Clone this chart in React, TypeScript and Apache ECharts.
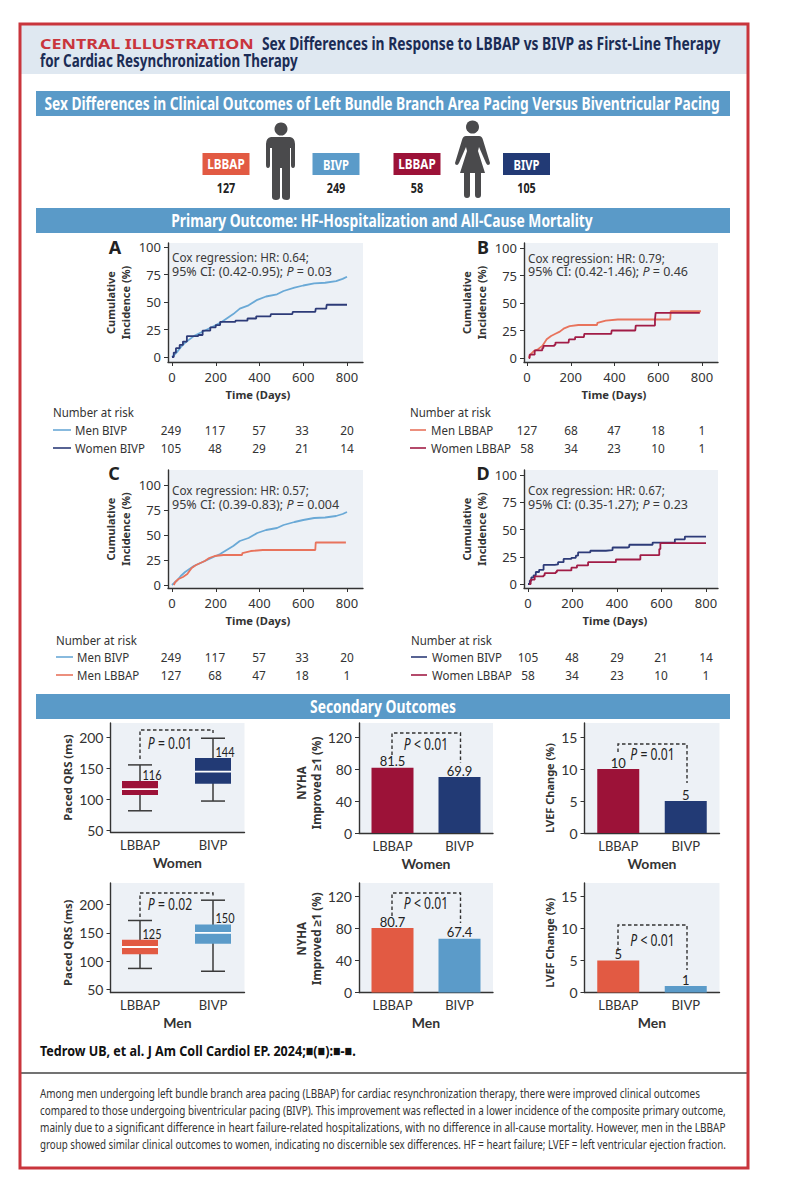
import React, { useEffect, useRef } from "react";
import * as echarts from "echarts";

const HEAD = '"Noto Sans", sans-serif';
const SMALL = 'Lato, sans-serif';
const SANS = '"Noto Sans", sans-serif';
const TXT = "#333";
const NAVY = "#1b2c55";
const C_MB = "#6aa9d6";
const C_WB = "#2d3b78";
const C_ML = "#e8735c";
const C_WL = "#a11c46";
const F_MB = "#5b9bc9";
const F_WB = "#223a75";
const F_ML = "#e25a43";
const F_WL = "#9c1238";
const BG = "#edf1f6";
const BAND = "#5a9ac8";

// Cumulative incidence: [day, percent]
const menBivp = [[0,0],[10,2],[25,5],[40,9],[60,13],[80,16],[100,19],[130,22],[160,25],[190,28],[220,31],[250,35],[280,39],[310,44],[350,47],[390,52],[430,55],[480,57],[510,60],[560,63],[600,65],[650,67],[700,67.5],[750,69],[780,71],[800,73]];
const womenBivpA = [[0,0],[8,4],[18,8],[35,11],[50,14],[68,19],[120,20],[140,24],[175,27],[200,29],[220,32],[270,32],[290,33],[340,33],[345,35],[385,37],[450,37],[452,39],[550,39],[552,41],[655,41],[657,44],[705,44],[707,47.5],[800,47.5]];
const menLbbap = [[8,0],[15,3],[30,6],[50,8],[70,11],[90,17],[110,20],[130,22],[150,24],[170,27],[195,29],[235,30],[320,30],[322,32],[360,34],[415,35],[655,35],[657,42.5],[795,42.5]];
const womenLbbapB = [[8,0],[12,3],[35,7],[70,9],[75,11],[125,12],[130,14],[190,14],[192,17],[220,19],[260,19],[262,22],[385,22],[387,25],[495,25],[497,29.5],[575,29.5],[585,35],[588,41],[790,41]];
const womenBivpD = [[0,0],[8,3],[15,6],[25,8],[35,11],[50,13],[70,17.5],[120,18],[135,20],[160,23],[195,24],[215,26],[225,29],[275,29],[280,30.5],[350,31],[380,33.5],[450,34],[455,36],[555,36],[560,38],[655,38],[660,41],[700,41],[705,43.5],[800,43.5]];
const womenLbbapD = [[5,0],[12,4],[30,7],[70,8],[75,10],[125,11],[130,12.5],[190,12.5],[195,15],[220,17],[265,17],[270,20],[390,20],[395,22.5],[500,22.5],[505,26.5],[580,26.5],[590,32],[595,37.5],[800,37.5]];

const kmXTicks = [0, 200, 400, 600, 800];
const kmYTicks = [0, 25, 50, 75, 100];

// Numbers at risk
const riskMenBivp = [249, 117, 57, 33, 20];
const riskWomenBivp = [105, 48, 29, 21, 14];
const riskMenLbbap = [127, 68, 47, 18, 1];
const riskWomenLbbap = [58, 34, 23, 10, 1];

// Secondary outcomes
const groups = ["LBBAP", "BIVP"];
// [position, low, q1, median, q3, high]
const qrsWomen = [[0,81,106.5,116,129,155],[1,96.7,124.7,144,166,198]];
const qrsMen = [[0,87,112,125,138,172],[1,82,130.6,150,165,208]];
const nyhaWomen = [81.5, 69.9];
const nyhaMen = [80.7, 67.4];
const lvefWomen = [10, 5];
const lvefMen = [5, 1];

const summary = [
  "Among men undergoing left bundle branch area pacing (LBBAP) for cardiac resynchronization therapy, there were improved clinical outcomes",
  "compared to those undergoing biventricular pacing (BIVP). This improvement was reflected in a lower incidence of the composite primary outcome,",
  "mainly due to a significant difference in heart failure-related hospitalizations, with no difference in all-cause mortality. However, men in the LBBAP",
  "group showed similar clinical outcomes to women, indicating no discernible sex differences. HF = heart failure; LVEF = left ventricular ejection fraction.",
];

const manPath = "M271,137 L290,137 Q295,138 295,144 L295,165 Q295,168 293,168 Q291,168 291,165 L291,148 L290,148 L290,197 Q290,200 287,200 Q282,200 282,197 L282,168 L280,168 L280,197 Q280,200 276,200 Q272,200 272,197 L272,148 L270,148 L270,165 Q270,168 268,168 Q266,168 266,165 L266,144 Q266,138 271,137 Z";
const womanPath = "M466,136 L479,136 Q482,136 483,140 L490,163 Q490,165 488,165 Q487,165 486,163 L479,147 L478,151 L485,173 L481,173 L481,195 Q481,198 478,198 Q475,198 475,195 L475,173 L470,173 L470,195 Q470,198 467,198 Q464,198 464,195 L464,173 L460,173 L467,151 L466,147 L459,163 Q458,165 457,165 Q455,165 455,163 L462,140 Q463,136 466,136 Z";

const measureCtx = document.createElement("canvas").getContext("2d")!;
function measure(text: string, size: number, weight: string, family: string) {
  measureCtx.font = `${weight} ${size}px ${family}`;
  return measureCtx.measureText(text.replace(/\{i\|(.*?)\}/g, "$1")).width;
}

function t(x: number, y: number, text: string, o: any = {}) {
  const align = o.align || "left";
  const size = o.size || 12;
  const weight = o.weight || "normal";
  const family = o.family || SANS;
  const scaleX = o.fit ? o.fit / measure(text, size, weight, family) : o.scale || 1;
  return {
    type: "text", x, y, z: 50, scaleX,
    style: {
      text, fontSize: size, fontWeight: weight, fill: o.color || TXT,
      fontFamily: family, align, textAlign: align,
      verticalAlign: "middle", textVerticalAlign: "middle", rich: o.rich,
    },
  };
}
function band(y: number, h: number, text: string, fit: number, cx = 383) {
  return [
    { type: "rect", z: 5, shape: { x: 36, y, width: 694, height: h }, style: { fill: BAND } },
    t(cx, y + h / 2, text, { size: 18, weight: "bold", color: "#fff", family: HEAD, align: "center", fit }),
  ];
}
function tag(x: number, label: string, color: string, n: number, fit: number) {
  return [
    { type: "rect", z: 5, shape: { x, y: 153, width: 47, height: 22 }, style: { fill: color } },
    t(x + 23.5, 164, label, { size: 14, weight: "bold", color: "#fff", family: HEAD, align: "center", fit }),
    t(x + 23.5, 187, String(n), { size: 15, weight: "bold", color: "#222", family: HEAD, align: "center", scale: 0.72 }),
  ];
}
function bracket(points: number[][], label: string, lx: number, ly: number) {
  const parts = label.split("P");
  return [
    { type: "polyline", z: 40, shape: { points }, style: { stroke: "#333", lineWidth: 1.4, lineDash: [3.5, 2.5], fill: "none" } },
    t(lx, ly, "{i|P}" + parts[1], { size: 16, family: HEAD, align: "center", color: "#222", scale: 0.76,
      rich: { i: { fontStyle: "italic", fontSize: 16, fontFamily: HEAD, fill: "#222" } } }),
  ];
}
function cox(x: number, y1: number, y2: number, a: string, b: string) {
  const rich = { i: { fontStyle: "italic", fontSize: 12.5, fontFamily: SANS, fill: "#3a3a3a" } };
  return [
    t(x, y1, a, { size: 12.5, color: "#3a3a3a", fit: 137 }),
    t(x, y2, b, { size: 12.5, color: "#3a3a3a", rich }),
  ];
}
function riskTable(x: number, yHead: number, y1: number, y2: number, nameX: number, lineEnd: number,
  rows: { name: string; color: string; vals: number[] }[], cols: number[]) {
  const out: any[] = [t(x, yHead, "Number at risk", { size: 12.5, scale: 0.92 })];
  rows.forEach((r, i) => {
    const y = i === 0 ? y1 : y2;
    out.push({ type: "line", z: 40, shape: { x1: x, y1: y, x2: lineEnd, y2: y }, style: { stroke: r.color, lineWidth: 1.6 } });
    out.push(t(nameX, y, r.name, { size: 12.5, scale: 0.92 }));
    r.vals.forEach((v, k) => out.push(t(cols[k], y, String(v), { size: 12.5, align: "center", scale: 0.95 })));
  });
  return out;
}

const grids: any[] = [];
const xAxes: any[] = [];
const yAxes: any[] = [];
const series: any[] = [];

const axisLine = { show: true, onZero: false, lineStyle: { color: "#333", width: 1.4 } };

function addKm(l: number, r: number, top: number, bottom: number, x0: number, x800: number, y0: number, y100: number,
  lines: { name: string; data: number[][]; color: string; stepped: boolean }[], namePad: number) {
  const i = grids.length;
  grids.push({ left: l, top, width: r - l, height: bottom - top, show: true, backgroundColor: BG, borderWidth: 0 });
  const sx = (x800 - x0) / 800;
  const sy = (y0 - y100) / 100;
  xAxes.push({
    gridIndex: i, type: "value", min: (l - x0) / sx, max: (r - x0) / sx,
    axisLine, splitLine: { show: false },
    axisTick: { show: true, length: 4, customValues: kmXTicks, lineStyle: { color: "#333" } },
    axisLabel: { customValues: kmXTicks, fontSize: 13, color: TXT, fontFamily: SANS, margin: 8 },
    name: "Time (Days)", nameLocation: "middle", nameGap: 27,
    nameTextStyle: { fontSize: 11.2, fontWeight: "bold", color: TXT, fontFamily: SANS, padding: [0, namePad, 0, 0] },
  });
  yAxes.push({
    gridIndex: i, type: "value", min: (y0 - bottom) / sy, max: (y0 - top) / sy,
    axisLine, splitLine: { show: false },
    axisTick: { show: true, length: 4, customValues: kmYTicks, lineStyle: { color: "#333" } },
    axisLabel: { customValues: kmYTicks, fontSize: 13, color: TXT, fontFamily: SANS, margin: 7 },
    name: "Cumulative\nIncidence (%)", nameLocation: "middle", nameGap: 35,
    nameTextStyle: { fontSize: 11, fontWeight: "bold", color: TXT, fontFamily: SANS, lineHeight: 15 },
  });
  lines.forEach((s) => series.push({
    type: "line", name: s.name, xAxisIndex: i, yAxisIndex: i, data: s.data, step: s.stepped ? "end" : false, showSymbol: false,
    lineStyle: { color: s.color, width: 1.8 }, itemStyle: { color: s.color }, silent: true,
  }));
}

function smallAxes(i: number, yTicks: number[], yMin: number, yMax: number, yName: string, nameSize: number, gap: number, pad: number, xName: string) {
  yAxes.push({
    gridIndex: i, type: "value", min: yMin, max: yMax, axisLine, splitLine: { show: false },
    axisTick: { show: true, length: 4, customValues: yTicks, lineStyle: { color: "#333" } },
    axisLabel: { customValues: yTicks, fontSize: 14, color: TXT, fontFamily: SMALL, margin: 7 },
    name: yName, nameLocation: "middle", nameGap: gap,
    nameTextStyle: { fontSize: nameSize, fontWeight: "bold", color: TXT, fontFamily: SANS, lineHeight: 15, padding: [0, pad, 0, 0] },
  });
  return {
    gridIndex: i, axisLine, splitLine: { show: false }, name: xName, nameLocation: "middle", nameGap: 23,
    nameTextStyle: { fontSize: 14, fontWeight: "bold", color: TXT, fontFamily: SMALL },
  };
}

function addBars(l: number, r: number, top: number, bottom: number, yZero: number, yTop: number, topVal: number,
  vals: number[], colors: string[], yTicks: number[], yName: string, nameSize: number, gap: number, pad: number, xName: string) {
  const i = grids.length;
  grids.push({ left: l, top, width: r - l, height: bottom - top, show: true, backgroundColor: BG, borderWidth: 0 });
  const s = (yZero - yTop) / topVal;
  xAxes.push({
    ...smallAxes(i, yTicks, 0, (yZero - top) / s, yName, nameSize, gap, pad, xName),
    type: "category", data: groups,
    axisTick: { show: false },
    axisLabel: { fontSize: 13, color: TXT, fontFamily: SMALL, margin: 6 },
  });
  series.push({
    type: "bar", xAxisIndex: i, yAxisIndex: i, barWidth: 42, silent: true,
    data: vals.map((v, k) => ({ value: v, itemStyle: { color: colors[k] } })),
    label: { show: true, position: "top", distance: 0, fontSize: 13, color: "#222", fontFamily: SMALL },
  });
}

function addBox(top: number, bottom: number, y50: number, y200: number, data: number[][], colors: string[], xName: string, pad: number) {
  const i = grids.length;
  const l = 110.5, r = 244.5, c0 = 140, c1 = 213;
  grids.push({ left: l, top, width: r - l, height: bottom - top, show: true, backgroundColor: BG, borderWidth: 0 });
  const sx = c1 - c0;
  const sy = (y50 - y200) / 150;
  xAxes.push({
    ...smallAxes(i, [50, 100, 150, 200], 50 - (bottom - y50) / sy, 50 + (y50 - top) / sy, "Paced QRS (ms)", 11.3, 27, pad, xName),
    type: "value", min: (l - c0) / sx, max: (r - c0) / sx,
    axisTick: { show: false },
    axisLabel: { customValues: [0, 1], fontSize: 13, color: TXT, fontFamily: SMALL, margin: 6, formatter: (v: number) => groups[v] },
  });
  series.push({
    type: "custom", xAxisIndex: i, yAxisIndex: i, silent: true, data, encode: { x: 0, y: [1, 2, 3, 4, 5] }, clip: false,
    renderItem: (_: any, api: any) => {
      const pos = api.value(0);
      const pt = (d: number) => api.coord([pos, api.value(d)]);
      const [cx] = pt(1);
      const low = pt(1)[1], q1 = pt(2)[1], med = pt(3)[1], q3 = pt(4)[1], high = pt(5)[1];
      const dark = { stroke: "#3a3a3a", lineWidth: 1.5 };
      return {
        type: "group",
        children: [
          { type: "line", shape: { x1: cx, y1: low, x2: cx, y2: high }, style: dark },
          { type: "line", shape: { x1: cx - 12, y1: low, x2: cx + 12, y2: low }, style: dark },
          { type: "line", shape: { x1: cx - 12, y1: high, x2: cx + 12, y2: high }, style: dark },
          { type: "rect", shape: { x: cx - 18, y: q3, width: 36, height: q1 - q3 }, style: { fill: colors[pos] } },
          { type: "line", shape: { x1: cx - 18, y1: med, x2: cx + 18, y2: med }, style: { stroke: "#fff", lineWidth: 1.8 } },
          { type: "text", x: cx + 12, y: q3 - 6, scaleX: 0.78, style: { text: String(api.value(3)), fontSize: 14, fill: "#222", fontFamily: SMALL, align: "center", verticalAlign: "middle" } },
        ],
      };
    },
  });
}

// Kaplan-Meier panels
addKm(168, 363, 243, 362, 172, 347, 357, 247, [
  { name: "Men BIVP", data: menBivp, color: C_MB, stepped: false },
  { name: "Women BIVP", data: womenBivpA, color: C_WB, stepped: true },
], 15);
addKm(524, 718, 243, 362, 527, 702, 358, 248, [
  { name: "Men LBBAP", data: menLbbap, color: C_ML, stepped: false },
  { name: "Women LBBAP", data: womenLbbapB, color: C_WL, stepped: true },
], 14);
addKm(168, 363, 470, 588, 172, 347, 585, 485, [
  { name: "Men BIVP", data: menBivp, color: C_MB, stepped: false },
  { name: "Men LBBAP", data: menLbbap, color: C_ML, stepped: false },
], 15);
addKm(524, 718, 470, 588, 528, 706, 584, 475, [
  { name: "Women BIVP", data: womenBivpD, color: C_WB, stepped: true },
  { name: "Women LBBAP", data: womenLbbapD, color: C_WL, stepped: true },
], 12);

// Secondary outcomes
const wf = [F_WL, F_WB];
const mf = [F_ML, F_MB];
addBox(723, 832, 830, 737, qrsWomen, wf, "Women", 0);
addBars(359, 493, 723, 833, 832.7, 737, 120, nyhaWomen, wf, [0, 40, 80, 120], "NYHA\nImproved \u22651 (%)", 11.5, 24, 10, "Women");
addBars(584.5, 719.5, 723, 833, 832.7, 737, 15, lvefWomen, wf, [0, 5, 10, 15], "LVEF Change (%)", 11, 14, 20, "Women");
addBox(883, 992.5, 989.3, 904.7, qrsMen, mf, "Men", 10);
addBars(359, 493, 883, 992.5, 992.3, 896.7, 120, nyhaMen, mf, [0, 40, 80, 120], "NYHA\nImproved \u22651 (%)", 11.5, 28, 2, "Men");
addBars(584.5, 719.5, 883, 992.5, 992.3, 896.7, 15, lvefMen, mf, [0, 5, 10, 15], "LVEF Change (%)", 11, 14, 10, "Men");

echarts.graphic.registerShape("man", echarts.graphic.extendPath(manPath, {}));
echarts.graphic.registerShape("woman", echarts.graphic.extendPath(womanPath, {}));

const cols1 = [171, 215, 259, 302, 347];
const graphicEls: any[] = [
  { type: "rect", z: 1, shape: { x: 20, y: 24, width: 728, height: 50 }, style: { fill: "#dfe8f1" } },
  { type: "rect", z: 60, shape: { x: 20, y: 24, width: 728, height: 1144 }, style: { fill: "none", stroke: "#c9353c", lineWidth: 3 } },
  t(40, 43, "CENTRAL ILLUSTRATION", { size: 15, weight: "bold", color: "#c9353c", fit: 214 }),
  t(262, 43, "Sex Differences in Response to LBBAP vs BIVP as First-Line Therapy", { size: 17, weight: "bold", color: NAVY, family: HEAD, fit: 459 }),
  t(40, 60, "for Cardiac Resynchronization Therapy", { size: 17, weight: "bold", color: NAVY, family: HEAD, fit: 258 }),
  ...band(91, 25, "Sex Differences in Clinical Outcomes of Left Bundle Branch Area Pacing Versus Biventricular Pacing", 676, 382),
  ...band(208, 25, "Primary Outcome: HF-Hospitalization and All-Cause Mortality", 422, 382),
  ...band(694, 25, "Secondary Outcomes", 146, 383),
  ...tag(202.5, "LBBAP", F_ML, 127, 37.5),
  ...tag(312.5, "BIVP", F_MB, 249, 26),
  ...tag(393.5, "LBBAP", F_WL, 58, 37.5),
  ...tag(503, "BIVP", F_WB, 105, 26),
  { type: "circle", z: 5, shape: { cx: 281, cy: 129, r: 6.5 }, style: { fill: "#4a4a4c" } },
  { type: "man", z: 5, x: 0, y: 0, style: { fill: "#4a4a4c" } },
  { type: "circle", z: 5, shape: { cx: 472.5, cy: 127, r: 6.5 }, style: { fill: "#4a4a4c" } },
  { type: "woman", z: 5, x: 0, y: 0, style: { fill: "#4a4a4c" } },

  t(115, 247, "A", { size: 18, weight: "bold", align: "center", color: "#222" }),
  t(483, 247, "B", { size: 18, weight: "bold", align: "center", color: "#222" }),
  t(114, 473, "C", { size: 18, weight: "bold", align: "center", color: "#222" }),
  t(483, 473, "D", { size: 18, weight: "bold", align: "center", color: "#222" }),

  ...cox(172, 257, 271, "Cox regression: HR: 0.64;", "95% CI: (0.42-0.95); {i|P} = 0.03"),
  ...cox(528, 258, 271, "Cox regression: HR: 0.79;", "95% CI: (0.42-1.46); {i|P} = 0.46"),
  ...cox(172, 490, 504, "Cox regression: HR: 0.57;", "95% CI: (0.39-0.83); {i|P} = 0.004"),
  ...cox(528, 490, 504, "Cox regression: HR: 0.67;", "95% CI: (0.35-1.27); {i|P} = 0.23"),

  ...riskTable(53, 412, 430, 448, 75, 71, [
    { name: "Men BIVP", color: C_MB, vals: riskMenBivp },
    { name: "Women BIVP", color: C_WB, vals: riskWomenBivp },
  ], cols1),
  ...riskTable(410, 412, 430, 448, 431, 426, [
    { name: "Men LBBAP", color: C_ML, vals: riskMenLbbap },
    { name: "Women LBBAP", color: C_WL, vals: riskWomenLbbap },
  ], [527, 571, 614, 658, 702]),
  ...riskTable(56, 640, 657, 675, 77, 73, [
    { name: "Men BIVP", color: C_MB, vals: riskMenBivp },
    { name: "Men LBBAP", color: C_ML, vals: riskMenLbbap },
  ], cols1),
  ...riskTable(411, 640, 657, 675, 432, 427, [
    { name: "Women BIVP", color: C_WB, vals: riskWomenBivp },
    { name: "Women LBBAP", color: C_WL, vals: riskWomenLbbap },
  ], [528, 572, 617, 661, 706]),

  ...bracket([[140, 759], [140, 730], [213, 730], [213, 733]], "P = 0.01", 170, 743),
  ...bracket([[392, 755], [392, 733], [460.5, 733], [460.5, 763]], "P < 0.01", 426, 744),
  ...bracket([[618, 752], [618, 744], [687, 744], [687, 783]], "P = 0.01", 652.5, 754),
  ...bracket([[140, 917], [140, 893], [213, 893], [213, 896]], "P = 0.02", 170, 904),
  ...bracket([[392, 916], [392, 893], [460.5, 893], [460.5, 923]], "P < 0.01", 426, 903),
  ...bracket([[618, 951], [618, 925], [687, 925], [687, 970]], "P < 0.01", 652.5, 940),

  t(40, 1050, "Tedrow UB, et al. J Am Coll Cardiol EP. 2024;\u25A0(\u25A0):\u25A0-\u25A0.", { size: 15, weight: "bold", color: "#111", family: HEAD, fit: 316 }),
  { type: "line", z: 40, shape: { x1: 20, y1: 1073, x2: 748, y2: 1073 }, style: { stroke: "#444", lineWidth: 1.4 } },
  ...summary.map((s, i) => t(40, [1093, 1110.5, 1127.5, 1144.5][i], s, { size: 12, family: HEAD, color: "#333", fit: [661, 686, 686, 686][i] })),
];

const option: any = {
  animation: false,
  backgroundColor: "#fff",
  grid: grids,
  xAxis: xAxes,
  yAxis: yAxes,
  series,
  graphic: { elements: graphicEls },
};

export default function App() {
  const ref = useRef<HTMLDivElement>(null);
  useEffect(() => {
    const chart = echarts.init(ref.current!, undefined, { renderer: "svg" });
    chart.setOption(option);
    return () => chart.dispose();
  }, []);
  return <div ref={ref} style={{ position: "absolute", left: 0, top: 0, width: 786, height: 1200 }} />;
}
